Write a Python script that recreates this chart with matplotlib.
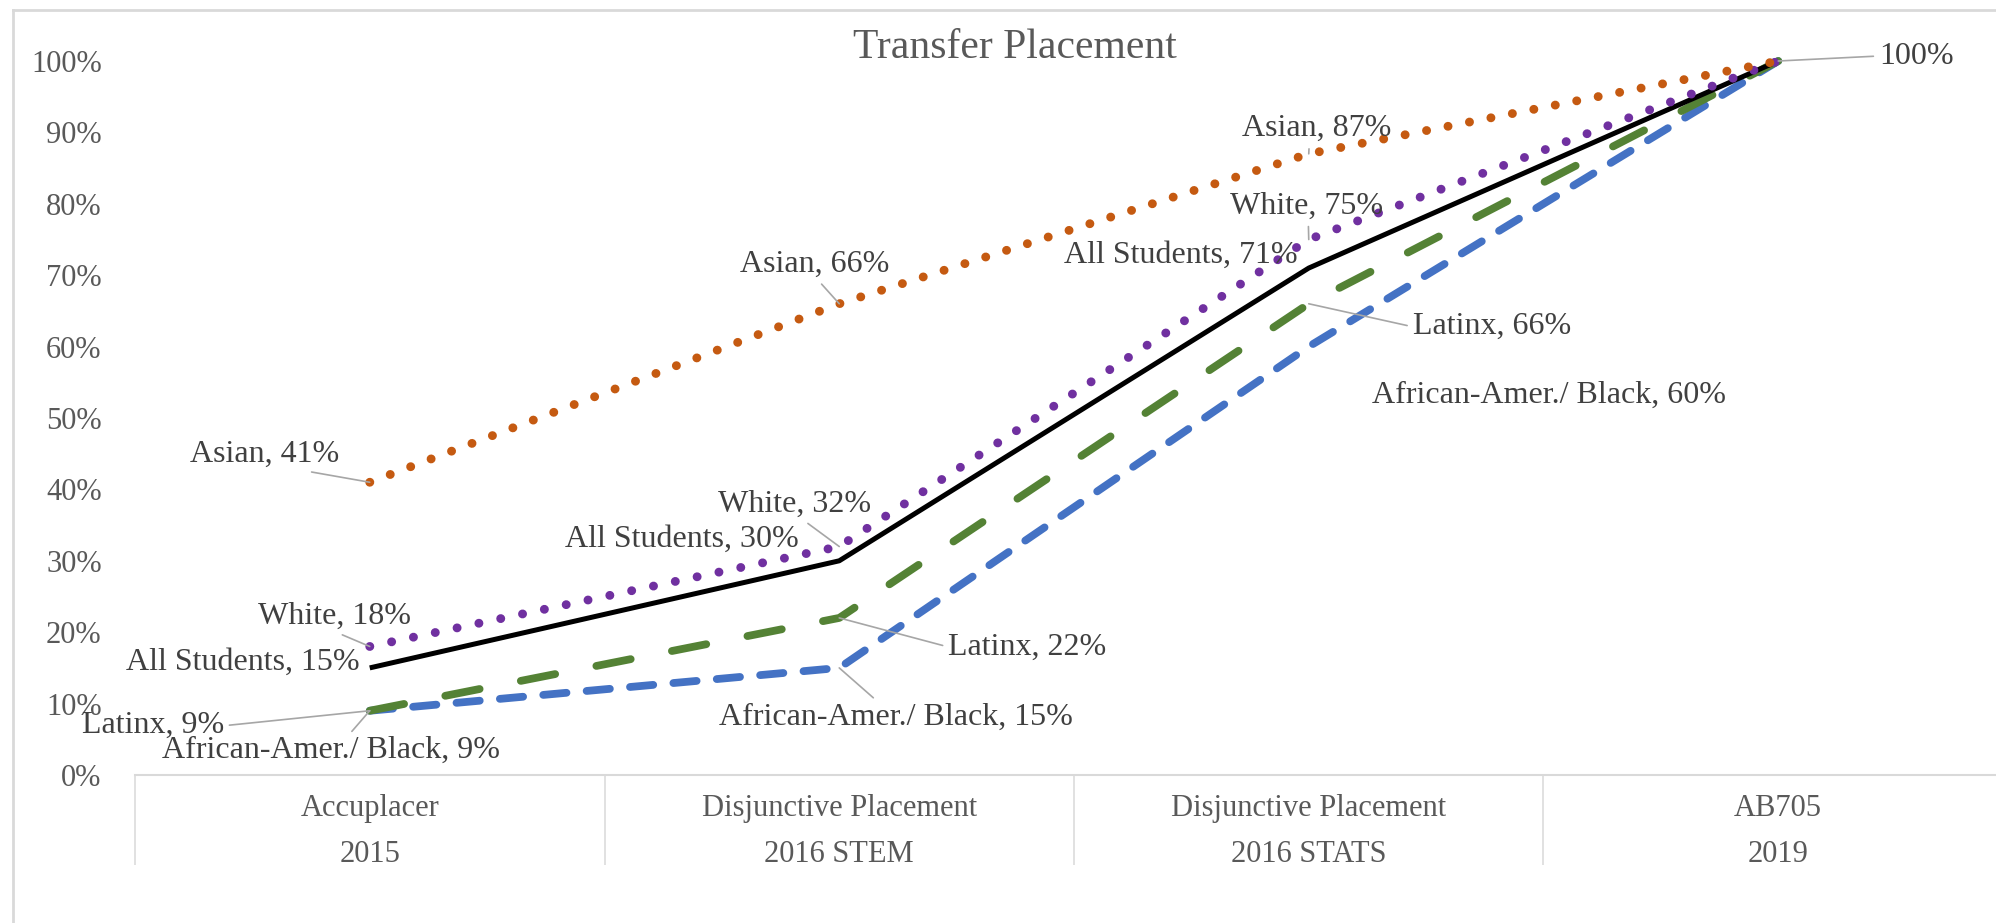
import matplotlib.pyplot as plt
from matplotlib.lines import Line2D
from matplotlib.ticker import PercentFormatter

plt.rcParams['font.family'] = ['Liberation Serif', 'DejaVu Serif']

# categories (two-level axis)
methods = ['Accuplacer', 'Disjunctive Placement', 'Disjunctive Placement', 'AB705']
years = ['2015', '2016 STEM', '2016 STATS', '2019']

# series values
asian = [0.41, 0.66, 0.87, 1.00]
white = [0.18, 0.32, 0.75, 1.00]
all_students = [0.15, 0.30, 0.71, 1.00]
latinx = [0.09, 0.22, 0.66, 1.00]
black = [0.09, 0.15, 0.60, 1.00]

# label names as shown in the data labels
names = ['Asian', 'White', 'All Students', 'Latinx', 'African-Amer./ Black']

# label placement: (dx, dy) pixel offset of text centre from the point, leader relpos or None
asian_lbl = [((-105, 28), (0.69, 0)), ((-25, 39), (0.52, 0)), ((8, 25), (0.45, 0)), None]
white_lbl = [((-35, 30), (0.49, 0)), ((-45, 42), (0.55, 0)), ((-2, 33), (0.51, 0)), None]
all_lbl = [((-127, 6), None), ((-157, 21), None), ((-128, 13), None), None]
latinx_lbl = [((-217, -15), (1, 0.5)), ((188, -29), (0, 0.5)), ((183, -23), (0, 0.5)),
              ((138, 5), (0, 0.5))]
black_lbl = [((-39, -40), (0.55, 1)), ((57, -49), (0.45, 1)), ((240, -49), None), None]

fig = plt.figure(figsize=(19.96, 9.23), dpi=100)
ax = fig.add_axes([135 / 1996, 148 / 923, 1878 / 1996, 714 / 923])

x = list(range(len(years)))

series = [
    (black, '#4472C4', (0, (3.0, 2.6)), 5.6, black_lbl, 4),
    (latinx, '#548235', (0, (4.5, 5.4)), 5.6, latinx_lbl, 3),
    (all_students, 'black', '-', 3.6, all_lbl, 2),
    (white, '#7030A0', (0, (0.01, 2.5)), 6.4, white_lbl, 1),
    (asian, '#C55A11', (0, (0.01, 2.45)), 6.4, asian_lbl, 0),
]

for vals, col, ls, lw, lbls, ni in series:
    ax.plot(x, vals, color=col, linestyle=ls, lw=lw, dash_capstyle='round',
            solid_capstyle='butt', clip_on=False)
    for xi, v, lb in zip(x, vals, lbls):
        if lb is None:
            continue
        off, rel = lb
        if ni == 3 and xi == 3:
            txt = f'{v:.0%}'
        else:
            txt = f'{names[ni]}, {v:.0%}'
        kw = {}
        if rel is not None:
            kw['arrowprops'] = dict(arrowstyle='-', color='#A6A6A6', lw=1.2,
                                    shrinkA=2, shrinkB=0, relpos=rel)
        ax.annotate(txt, xy=(xi, v), xytext=off, textcoords='offset pixels',
                    ha='center', va='center', fontsize=23, color='#404040',
                    annotation_clip=False, **kw)

ax.set_xlim(-0.5, 3.5)
ax.set_ylim(0, 1)
ax.set_yticks([i / 10 for i in range(11)])
ax.yaxis.set_major_formatter(PercentFormatter(1.0, decimals=0))
ax.tick_params(axis='y', length=0, pad=24, labelsize=22, labelcolor='#595959')

ax.set_xticks(x, labels=[f'{m}\n{y}' for m, y in zip(methods, years)])
ax.set_xticks([i - 0.5 for i in range(len(years) + 1)], minor=True)
ax.tick_params(axis='x', which='major', length=0, pad=14, labelsize=22, labelcolor='#595959')
ax.tick_params(axis='x', which='minor', length=65, width=1.1, color='#D9D9D9', direction='out')
for t in ax.get_xticklabels():
    t.set_linespacing(1.75)

for s in ['top', 'right', 'left']:
    ax.spines[s].set_visible(False)
ax.spines['bottom'].set_color('#D9D9D9')
ax.spines['bottom'].set_linewidth(1.5)

fig.text(1015 / 1996, 1 - 48 / 923, 'Transfer Placement', ha='center', va='center',
         fontsize=30, color='#595959')

# chart area border (left and top edges visible)
bx, by = 13 / 1996, 1 - 10 / 923
fig.add_artist(Line2D([bx, bx], [0, by], color='#D9D9D9', lw=2))
fig.add_artist(Line2D([bx, 1], [by, by], color='#D9D9D9', lw=2))

fig.savefig('out.png', dpi=100)
